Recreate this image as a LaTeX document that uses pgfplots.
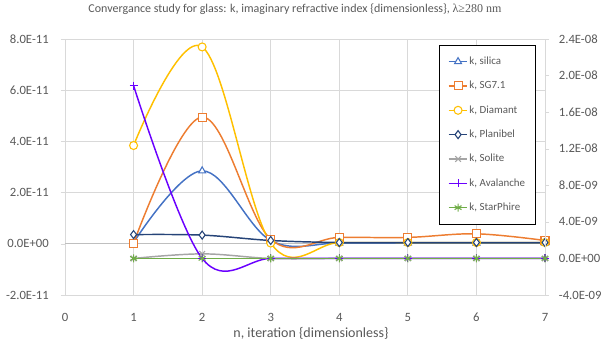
\documentclass[border=0pt]{standalone}
\usepackage{pgfplots}
\pgfplotsset{compat=1.18}
\usepackage{fontspec}
\setmainfont{Carlito}
\newfontfamily\serifm{Liberation Serif}
\definecolor{txt}{HTML}{595959}
\definecolor{gridc}{HTML}{D9D9D9}
\definecolor{zeroc}{HTML}{BFBFBF}
\definecolor{csil}{HTML}{4472C4}
\definecolor{csg}{HTML}{ED7D31}
\definecolor{cdia}{HTML}{FFC000}
\definecolor{cpla}{HTML}{264478}
\definecolor{csol}{HTML}{A5A5A5}
\definecolor{cava}{HTML}{6A00FF}
\definecolor{csta}{HTML}{70AD47}
\pgfplotsset{
  base/.style={width=360pt,height=192pt,scale only axis,at={(0,0)},anchor=south west,
    xmin=0,xmax=7,clip=false, scaled ticks=false,
    tick align=outside, major tick length=3pt,
    ticklabel style={font=\fontsize{9.5}{11}\selectfont, text=txt},
    axis line style={draw=gridc}},
  ser/.style={line width=1.1pt, smooth, tension=0.6, mark size=3pt},
  silica/.style={ser, color=csil, mark=triangle*, mark options={solid, draw=csil, fill=white, line width=0.8pt}},
  sg/.style={ser, color=csg, mark=square*, mark options={solid, draw=csg, fill=white, line width=0.8pt}},
  dia/.style={ser, color=cdia, mark=*, mark options={solid, draw=cdia, fill=white, line width=0.8pt}},
  pla/.style={ser, color=cpla, mark=diamond*, mark options={solid, draw=cpla, fill=white, line width=0.8pt}},
  sol/.style={ser, color=csol, mark=x, mark options={solid, draw=csol, line width=0.8pt}},
  ava/.style={ser, color=cava, mark=+, mark options={solid, draw=cava, line width=0.8pt}},
  sta/.style={ser, color=csta, mark=asterisk, mark options={solid, draw=csta, line width=0.8pt}},
}
\begin{document}
\begin{tikzpicture}
\path[use as bounding box] (-48.75pt,-39pt) rectangle (405.75pt,221.25pt);
\clip (-48.75pt,-39pt) rectangle (405.75pt,221.25pt);
\begin{axis}[base,
  ymin=-2e-11, ymax=8e-11,
  ytick={-2e-11,0,2e-11,4e-11,6e-11,8e-11},
  yticklabels={-2.0E-11,0.0E+00,2.0E-11,4.0E-11,6.0E-11,8.0E-11},
  xtick={0,1,2,3,4,5,6,7},
  xticklabels={0,1,2,3,4,5,6,7},
  xtick style={draw=none},
  ytick style={draw=gridc},
  axis y line*=left, axis x line*=bottom,
  grid=major, grid style={gridc, line width=0.6pt},
  yticklabel style={anchor=east, inner sep=0pt, xshift=-9pt},
  xticklabel style={anchor=center, inner sep=0pt, yshift=-13.5pt},
  title={Convergance study for glass: k, imaginary refractive index \{dimensionless\}, {\serifm λ≥280 nm}},
  title style={at={(0.479,1)}, anchor=center, yshift=16.5pt, font=\fontsize{9}{11}\selectfont, text=txt},
  xlabel={n, iteration \{dimensionless\}},
  xlabel style={at={(0.5125,0)}, anchor=center, yshift=-28.5pt, font=\fontsize{10.5}{12}\selectfont, text=txt},
]
\draw[zeroc, line width=0.8pt] (axis cs:0,0) -- (axis cs:7,0);
\addplot[silica] coordinates {(1,0.05e-11)(2,2.85e-11)(3,0.13e-11)(4,0.03e-11)(5,0.03e-11)(6,0.03e-11)(7,0.03e-11)};
\addplot[sg] coordinates {(1,0.02e-11)(2,4.95e-11)(3,0.18e-11)(4,0.25e-11)(5,0.25e-11)(6,0.39e-11)(7,0.13e-11)};
\addplot[dia] coordinates {(1,3.84e-11)(2,7.69e-11)(3,0.03e-11)(4,0.05e-11)(5,0.05e-11)(6,0.05e-11)(7,0.05e-11)};
\addplot[pla] coordinates {(1,0.36e-11)(2,0.34e-11)(3,0.13e-11)(4,0.05e-11)(5,0.05e-11)(6,0.05e-11)(7,0.05e-11)};
\end{axis}
\begin{axis}[base,
  ymin=-4e-9, ymax=2.4e-8,
  axis y line*=right, axis x line=none,
  ytick={-4e-9,0,4e-9,8e-9,1.2e-8,1.6e-8,2.0e-8,2.4e-8},
  yticklabels={-4.0E-09,0.0E+00,4.0E-09,8.0E-09,1.2E-08,1.6E-08,2.0E-08,2.4E-08},
  ytick style={draw=gridc},
  yticklabel style={anchor=west, inner sep=0pt, xshift=7.25pt},
  legend style={at={(0.779,0.977)}, anchor=north west, draw=black, line width=0.6pt, fill=white,
    font=\fontsize{8.2}{9}\selectfont, text=txt, row sep=8.75pt, inner xsep=6.5pt, inner ysep=7.5pt,
    nodes={text height=6pt, text depth=1.5pt, inner sep=1pt}},
  legend cell align=left,
  legend image code/.code={\draw[mark repeat=2,mark phase=2] plot coordinates {(0pt,0pt)(7pt,0pt)(14pt,0pt)};},
]
\addlegendimage{silica}
\addlegendentry{k, silica}
\addlegendimage{sg}
\addlegendentry{k, SG7.1}
\addlegendimage{dia}
\addlegendentry{k, Diamant}
\addlegendimage{pla}
\addlegendentry{k, Planibel}
\addplot[sol] coordinates {(1,0)(2,0.5e-9)(3,0)(4,0)(5,0)(6,0)(7,0)};
\addlegendentry{k, Solite}
\addplot[ava] coordinates {(1,1.89e-8)(2,0)(3,0)(4,0)(5,0)(6,0)(7,0)};
\addlegendentry{k, Avalanche}
\addplot[sta] coordinates {(1,0)(2,0)(3,0)(4,0)(5,0)(6,0)(7,0)};
\addlegendentry{k, StarPhire}
\end{axis}
\end{tikzpicture}
\end{document}
